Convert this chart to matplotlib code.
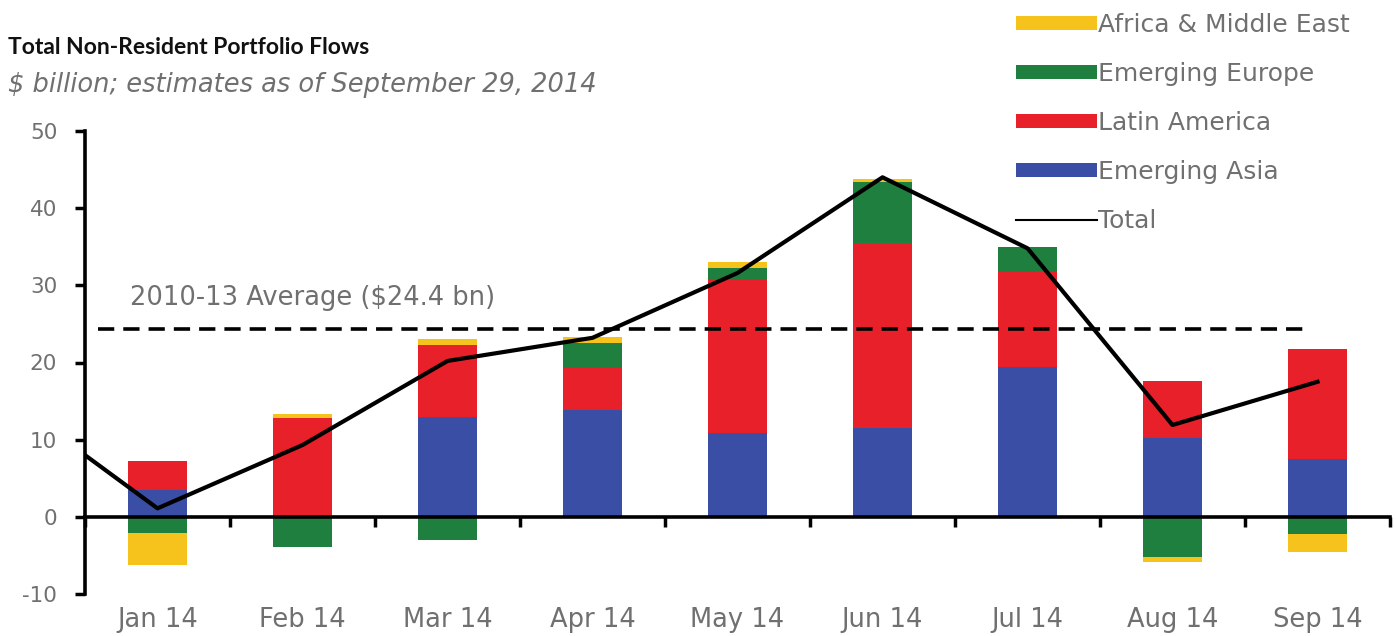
import matplotlib.pyplot as plt
import numpy as np

plt.rcParams['font.family'] = ['DejaVu Sans']
plt.rcParams['axes.unicode_minus'] = False

months = ['Jan 14', 'Feb 14', 'Mar 14', 'Apr 14', 'May 14', 'Jun 14', 'Jul 14', 'Aug 14', 'Sep 14']
asia = [3.5, 0.0, 13.0, 13.9, 10.9, 11.5, 19.4, 10.2, 7.5]
latam = [3.7, 12.8, 9.3, 5.4, 19.8, 24.0, 12.3, 7.4, 14.3]
europe = [-2.1, -3.9, -3.0, 3.2, 1.5, 7.9, 3.3, -5.2, -2.2]
africa = [-4.1, 0.5, 0.7, 0.8, 0.8, 0.4, 0.0, -0.7, -2.3]
# total starts with Dec 13, which falls left of the axis and is clipped
total = [14.9, 1.1, 9.3, 20.2, 23.2, 31.6, 44.0, 34.8, 11.9, 17.5]
avg_2010_13 = 24.4

series = [('Emerging Asia', asia, '#3a4ea6'),
          ('Latin America', latam, '#e8202a'),
          ('Emerging Europe', europe, '#1f7f3f'),
          ('Africa & Middle East', africa, '#f6c21c')]

grey = '#707070'

fig = plt.figure(figsize=(13.96, 6.36), dpi=100)
ax = fig.add_axes([85 / 1396, 42 / 636, 1305 / 1396, 463 / 636])

x = np.arange(len(months))
pos_base = np.zeros(len(months))
neg_base = np.zeros(len(months))
handles = {}
for name, vals, col in series:
    vals = np.array(vals)
    bottom = np.where(vals >= 0, pos_base, neg_base)
    handles[name] = ax.bar(x, vals, width=0.41, bottom=bottom, color=col, linewidth=0)
    pos_base += np.where(vals >= 0, vals, 0)
    neg_base += np.where(vals < 0, vals, 0)

xt = np.arange(-1, len(months))
line, = ax.plot(xt, total, color='black', lw=3, zorder=5)

ax.axhline(avg_2010_13, xmin=0.01, xmax=0.935, color='black', lw=2.6,
           dashes=(4.5, 2.5), zorder=4)
ax.text(-0.19, 28.4, r'2010-13 Average (\$24.4 bn)', fontsize=18.5, color=grey,
        va='center', ha='left')

ax.set_xlim(-0.5, 8.5)
ax.set_ylim(-10, 50)
ax.set_yticks(np.arange(-10, 51, 10))
ax.tick_params(axis='y', length=7, width=2.5, color='black', labelcolor=grey,
               labelsize=15.5, pad=13)

ax.spines['top'].set_visible(False)
ax.spines['right'].set_visible(False)
ax.spines['left'].set_linewidth(2.6)
ax.spines['bottom'].set_linewidth(2.6)
ax.spines['bottom'].set_position(('data', 0))

ax.set_xticks(x)
ax.set_xticklabels(months)
ax.set_xticks(np.arange(-0.5, 8.6, 1), minor=True)
ax.tick_params(axis='x', which='major', length=0, pad=65, labelsize=18.5, labelcolor=grey)
ax.tick_params(axis='x', which='minor', length=7, width=2.5, direction='out')

fig.text(8 / 1396, 1 - 48 / 636, 'Total Non-Resident Portfolio Flows', fontsize=16.5,
         family='Lato', fontweight='bold', va='center', ha='left', color='#111111')
fig.text(8 / 1396, 1 - 85 / 636, r'\$ billion; estimates as of September 29, 2014',
         fontsize=18.5, style='italic', va='center', ha='left', color=grey)

order = ['Africa & Middle East', 'Emerging Europe', 'Latin America', 'Emerging Asia']
leg = fig.legend([handles[n] for n in order] + [line], order + ['Total'],
                 loc='upper left', bbox_to_anchor=(993 / 1396, 1.015), frameon=False,
                 fontsize=18, handlelength=3.25, handleheight=0.5, handletextpad=0.05,
                 labelspacing=1.0)
for t in leg.get_texts():
    t.set_color(grey)
leg.get_lines()[0].set_linewidth(1.5)

fig.savefig('out.png', dpi=100)
